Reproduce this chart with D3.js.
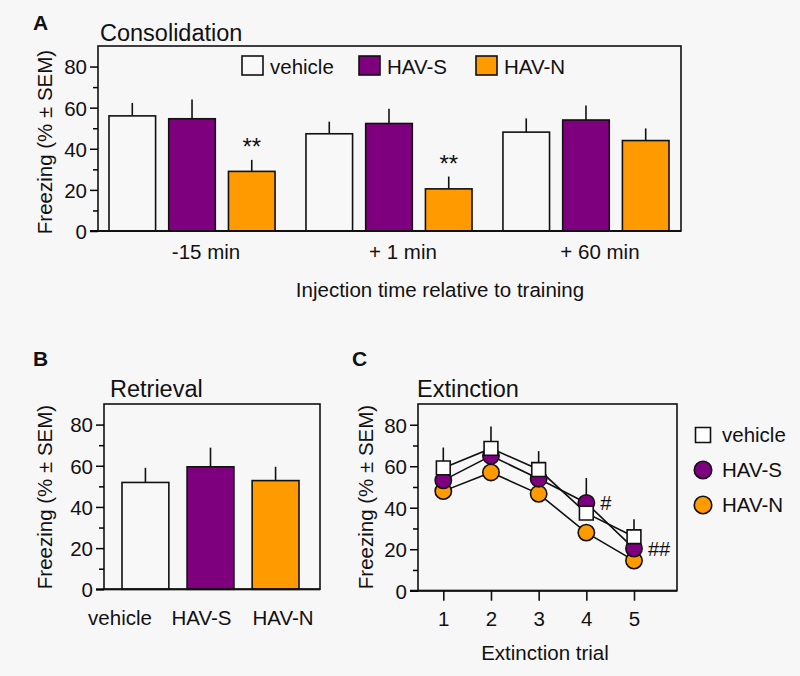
<!DOCTYPE html>
<html><head><meta charset="utf-8">
<script src="https://cdn.jsdelivr.net/npm/d3@7"></script>
<style>
body{margin:0;background:#f8f7f8;}
svg{display:block;font-family:"Liberation Sans",Arial,Helvetica,sans-serif;}
</style></head>
<body><svg id="c" width="800" height="676"></svg>
<script>
// ---------- data ----------
const series = ["vehicle", "HAV-S", "HAV-N"];
const colors = ["#f9f8f9", "#7f007f", "#ff9a00"];
const yTicks = [0, 20, 40, 60, 80];

// Panel A: consolidation
const groupsA = ["-15 min", "+ 1 min", "+ 60 min"];
const meanA = { "vehicle": [56, 47.3, 48.1], "HAV-S": [54.6, 52.3, 54], "HAV-N": [29, 20.5, 44] };
const errA  = { "vehicle": [6.3, 5.9, 6.7], "HAV-S": [9.4, 7.2, 7], "HAV-N": [5.6, 6, 5.9] };
const starsA = ["**", "**", ""];

// Panel B: retrieval
const meanB = [51.9, 59.5, 52.8];
const errB  = [7.1, 9.3, 6.7];

// Panel C: extinction
const trials = [1, 2, 3, 4, 5];
const meanC = { "vehicle": [59.2, 68.6, 58.4, 37.4, 26], "HAV-S": [53.2, 65, 54, 42.3, 20.3], "HAV-N": [48, 57, 46.7, 28, 14.5] };
const errC  = { "vehicle": [9.8, 10.6, 8.9, 3, 8.5], "HAV-S": [3, 3, 3, 12, 3], "HAV-N": [3, 3, 3, 3, 3] };
const marksC = ["", "", "", "#", "##"];

const svg = d3.select("#c");
const FS = 20.5;

function yAxis(g, y, x0) {
  const ax = d3.axisLeft(y).tickValues(yTicks).tickSize(8).tickPadding(3);
  const a = g.append("g").attr("transform", `translate(${x0},0)`).call(ax);
  a.select(".domain").remove();
  a.selectAll("line").attr("stroke", "#000").attr("stroke-width", 1.5);
  a.selectAll("text").attr("font-size", FS).attr("fill", "#111").attr("dy", "0.36em").attr("font-family", "Liberation Sans, Arial");
  const m = d3.axisLeft(y).tickValues([10, 30, 50, 70]).tickSize(5).tickFormat("");
  const b = g.append("g").attr("transform", `translate(${x0},0)`).call(m);
  b.select(".domain").remove();
  b.selectAll("line").attr("stroke", "#000").attr("stroke-width", 1.5);
}
function frame(g, x0, x1, y0, y1) {
  g.append("rect").attr("x", x0).attr("y", y0).attr("width", x1 - x0).attr("height", y1 - y0)
    .attr("fill", "none").attr("stroke", "#111").attr("stroke-width", 1.6);
  g.append("line").attr("x1", x0 - 8).attr("x2", x1).attr("y1", y1).attr("y2", y1).attr("stroke", "#111").attr("stroke-width", 2);
}
function ylabel(g, x, y) {
  g.append("text").attr("transform", `translate(${x},${y}) rotate(-90)`).attr("text-anchor", "middle")
    .attr("font-size", FS).attr("fill", "#111").text("Freezing (% \u00b1 SEM)");
}
function txt(g, x, y, s, opts = {}) {
  return g.append("text").attr("x", x).attr("y", y).attr("font-size", opts.fs || FS)
    .attr("font-weight", opts.fw || "normal").attr("text-anchor", opts.anchor || "start")
    .attr("fill", "#111").text(s);
}

// ---------- Panel A ----------
{
  const g = svg.append("g");
  const L = 98, R = 681, T = 46, B = 231;
  const y = d3.scaleLinear().domain([0, 90]).range([B, T]);
  const x0 = d3.scaleBand().domain(groupsA).range([109, 669]).paddingInner(0.157).paddingOuter(0);
  const x1 = d3.scaleBand().domain(series).range([0, x0.bandwidth()]).paddingInner(0.22).paddingOuter(0);
  txt(g, 33, 30, "A", { fw: "bold", fs: 21 });
  txt(g, 100, 41, "Consolidation", { fs: 23.5 });
  series.forEach((s, si) => {
    groupsA.forEach((gr, gi) => {
      const cx = x0(gr) + x1(s) + x1.bandwidth() / 2;
      g.append("line").attr("x1", cx).attr("x2", cx).attr("y1", y(meanA[s][gi])).attr("y2", y(meanA[s][gi] + errA[s][gi]))
        .attr("stroke", "#111").attr("stroke-width", 1.6);
      g.append("rect").attr("x", x0(gr) + x1(s)).attr("y", y(meanA[s][gi])).attr("width", x1.bandwidth())
        .attr("height", y(0) - y(meanA[s][gi])).attr("fill", colors[si]).attr("stroke", "#111").attr("stroke-width", 1.6);
      if (s === "HAV-N" && starsA[gi]) {
        txt(g, cx, y(meanA[s][gi] + errA[s][gi]) - 5, starsA[gi], { anchor: "middle", fs: 24 });
      }
    });
  });
  frame(g, L, R, T, B);
  yAxis(g, y, L);
  groupsA.forEach((gr, gi) => {
    txt(g, x0(gr) + x0.bandwidth() / 2 + 14, 259, gr, { anchor: "middle" });
  });
  txt(g, 440, 297, "Injection time relative to training", { anchor: "middle" });
  ylabel(g, 52, 142);
  // legend
  const lx = [242, 359, 476];
  series.forEach((s, i) => {
    g.append("rect").attr("x", lx[i]).attr("y", 56).attr("width", 21).attr("height", 19)
      .attr("fill", colors[i]).attr("stroke", "#111").attr("stroke-width", 1.6);
    txt(g, lx[i] + 28, 74, s);
  });
}

// ---------- Panel B ----------
{
  const g = svg.append("g");
  const L = 104, R = 320, T = 404, B = 589.3;
  const y = d3.scaleLinear().domain([0, 90]).range([B, T]);
  const x = d3.scaleBand().domain(series).range([122, 299]).paddingInner(0.28).paddingOuter(0);
  const xl = d3.scalePoint().domain(series).range([120, 283]);
  txt(g, 33, 366, "B", { fw: "bold", fs: 21 });
  txt(g, 110, 397, "Retrieval", { fs: 23.5 });
  series.forEach((s, i) => {
    const cx = x(s) + x.bandwidth() / 2;
    g.append("line").attr("x1", cx).attr("x2", cx).attr("y1", y(meanB[i])).attr("y2", y(meanB[i] + errB[i]))
      .attr("stroke", "#111").attr("stroke-width", 1.6);
    g.append("rect").attr("x", x(s)).attr("y", y(meanB[i])).attr("width", x.bandwidth()).attr("height", y(0) - y(meanB[i]))
      .attr("fill", colors[i]).attr("stroke", "#111").attr("stroke-width", 1.6);
    txt(g, xl(s), 625, s, { anchor: "middle" });
  });
  frame(g, L, R, T, B);
  yAxis(g, y, L);
  ylabel(g, 52, 497);
}

// ---------- Panel C ----------
{
  const g = svg.append("g");
  const L = 418, R = 677, T = 404, B = 590.7;
  const y = d3.scaleLinear().domain([0, 90]).range([B, T]);
  const x = d3.scaleLinear().domain([1, 5]).range([443.3, 634]);
  txt(g, 352, 366, "C", { fw: "bold", fs: 21 });
  txt(g, 417, 397, "Extinction", { fs: 23.5 });
  frame(g, L, R, T, B);
  yAxis(g, y, L);
  const xa = g.append("g").attr("transform", `translate(0,${B})`)
    .call(d3.axisBottom(x).tickValues(trials).tickFormat(d3.format("d")).tickSize(10).tickPadding(11));
  xa.select(".domain").remove();
  xa.selectAll("line").attr("stroke", "#111").attr("stroke-width", 1.6);
  xa.selectAll("text").attr("font-size", FS).attr("fill", "#111").attr("font-family", "Liberation Sans, Arial");
  txt(g, 545, 660, "Extinction trial", { anchor: "middle" });
  ylabel(g, 373, 497);
  const line = d3.line().x((d, i) => x(trials[i])).y(d => y(d));
  const order = ["HAV-N", "HAV-S", "vehicle"];
  // error bars
  order.forEach(s => {
    trials.forEach((t, i) => {
      g.append("line").attr("x1", x(t)).attr("x2", x(t)).attr("y1", y(meanC[s][i])).attr("y2", y(meanC[s][i] + errC[s][i]))
        .attr("stroke", "#111").attr("stroke-width", 1.6);
    });
  });
  order.forEach(s => {
    g.append("path").attr("d", line(meanC[s])).attr("fill", "none").attr("stroke", "#111").attr("stroke-width", 1.6);
  });
  const symSq = d3.symbol().type(d3.symbolSquare).size(190);
  const symCi = d3.symbol().type(d3.symbolCircle).size(210);
  order.forEach(s => {
    const si = series.indexOf(s);
    trials.forEach((t, i) => {
      g.append("path").attr("d", s === "vehicle" ? symSq() : symCi())
        .attr("transform", `translate(${x(t)},${y(meanC[s][i])})`)
        .attr("fill", s === "vehicle" ? "#ffffff" : colors[si]).attr("stroke", "#111").attr("stroke-width", 1.6);
    });
  });
  trials.forEach((t, i) => {
    if (marksC[i]) txt(g, x(t) + 14, y(meanC["HAV-S"][i]) + 7, marksC[i], { fs: 20 });
  });
  // legend
  const ly = [435, 470, 505];
  series.forEach((s, i) => {
    g.append("path").attr("d", s === "vehicle" ? d3.symbol().type(d3.symbolSquare).size(225)() : d3.symbol().type(d3.symbolCircle).size(240)())
      .attr("transform", `translate(703,${ly[i]})`)
      .attr("fill", s === "vehicle" ? "#ffffff" : colors[i]).attr("stroke", "#111").attr("stroke-width", 1.6);
    txt(g, 722, ly[i] + 7, s);
  });
}
</script></body></html>
